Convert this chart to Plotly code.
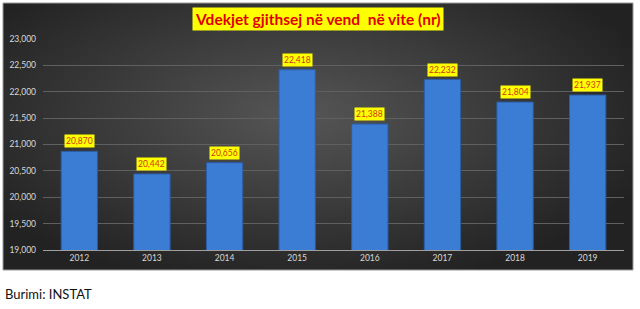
import base64
import struct
import zlib

import plotly.graph_objects as go

# Deaths per year (nr)
years = ["2012", "2013", "2014", "2015", "2016", "2017", "2018", "2019"]
deaths = [20870, 20442, 20656, 22418, 21388, 22232, 21804, 21937]
y_ticks = [19000, 19500, 20000, 20500, 21000, 21500, 22000, 22500, 23000]

W, H = 640, 309


def px(v, total):
    return v / total


def gradient_png(w, h):
    """Radial dark-grey gradient used as the panel background."""
    cx, cy = 0.47, 0.42
    rows = []
    for j in range(h):
        row = bytearray([0])
        for i in range(w):
            dx = (i / (w - 1) - cx) * 1.0
            dy = (j / (h - 1) - cy) * 0.9
            d = min(1.0, (dx * dx + dy * dy) ** 0.5 / 0.6)
            c = int(round(86 - (86 - 34) * d))
            row += bytes([c, c, c])
        rows.append(bytes(row))
    raw = b"".join(rows)

    def chunk(tag, data):
        return (struct.pack(">I", len(data)) + tag + data
                + struct.pack(">I", zlib.crc32(tag + data) & 0xFFFFFFFF))

    png = b"\x89PNG\r\n\x1a\n"
    png += chunk(b"IHDR", struct.pack(">IIBBBBB", w, h, 8, 2, 0, 0, 0))
    png += chunk(b"IDAT", zlib.compress(raw, 9))
    png += chunk(b"IEND", b"")
    return "data:image/png;base64," + base64.b64encode(png).decode()


fig = go.Figure()
fig.add_trace(go.Bar(
    x=list(years),
    y=list(deaths),
    marker=dict(color="#3b7cd4", line=dict(color="#2a5da6", width=1)),
    hoverinfo="x+y",
))

# value labels in yellow boxes above each bar (x given as category index)
for i, v in enumerate(deaths):
    fig.add_annotation(
        x=i, y=v, xref="x", yref="y",
        text=f"{v:,}",
        showarrow=False, yanchor="bottom", yshift=3,
        bgcolor="#ffff00", borderpad=1,
        font=dict(family="Lato, Open Sans, sans-serif", size=8.5, color="#cc3a10"),
    )

# chart title
fig.add_annotation(
    x=px(318, W), y=1 - px(19, H), xref="paper", yref="paper",
    text="<b>Vdekjet gjithsej në vend  në vite (nr)</b>",
    showarrow=False, xanchor="center", yanchor="middle",
    bgcolor="#ffff00", borderpad=2,
    font=dict(family="Lato, Open Sans, sans-serif", size=15.5, color="#e00000"),
)

# source note
fig.add_annotation(
    x=px(3, W), y=1 - px(294, H), xref="paper", yref="paper",
    text="Burimi: INSTAT",
    showarrow=False, xanchor="left", yanchor="middle",
    font=dict(family="Lato, Open Sans, sans-serif", size=13, color="#111111"),
)

fig.update_layout(
    width=W, height=H,
    margin=dict(l=0, r=0, t=0, b=0, autoexpand=False),
    paper_bgcolor="#ffffff",
    plot_bgcolor="rgba(0,0,0,0)",
    showlegend=False,
    bargap=0.5,
    images=[dict(
        source=gradient_png(160, 68),
        xref="paper", yref="paper",
        x=px(3, W), y=1 - px(3, H),
        sizex=px(630, W), sizey=px(267, H),
        sizing="stretch", layer="below",
        xanchor="left", yanchor="top",
    )],
    shapes=[dict(
        type="rect", xref="paper", yref="paper",
        x0=px(3, W), x1=px(633, W), y0=1 - px(270, H), y1=1 - px(3, H),
        line=dict(color="#9a9a9a", width=1), layer="below",
    )],
    xaxis=dict(
        type="category",
        categoryorder="array", categoryarray=years,
        range=[-0.5, len(years) - 0.5],
        automargin=False,
        domain=[px(43, W), px(624, W)],
        showgrid=False, zeroline=False,
        showline=True, linecolor="#a0a0a0", linewidth=1,
        tickfont=dict(family="Lato, Open Sans, sans-serif", size=8.5, color="#d8d8d8"),
        ticks="",
    ),
    yaxis=dict(
        automargin=False,
        domain=[px(59, H), px(270, H)],
        range=[19000, 23000],
        tickvals=y_ticks,
        tickformat=",d",
        showgrid=True, gridcolor="#606060", gridwidth=1,
        zeroline=False, showline=False,
        tickfont=dict(family="Lato, Open Sans, sans-serif", size=8.5, color="#d8d8d8"),
        ticks="", ticklabelstandoff=6,
    ),
)

fig.write_html("out.html")
